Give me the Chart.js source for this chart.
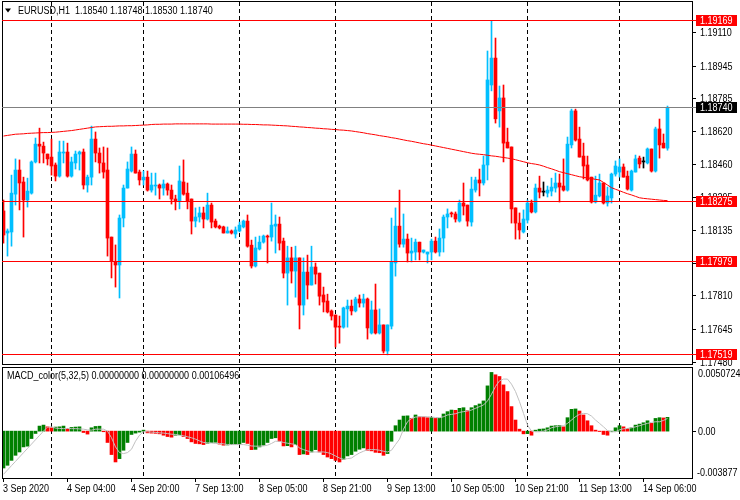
<!DOCTYPE html>
<html><head><meta charset="utf-8">
<script src="https://cdn.jsdelivr.net/npm/chart.js@4.4.1/dist/chart.umd.min.js"></script>
<style>
html,body{margin:0;padding:0;background:#fff;}
#wrap{position:relative;width:740px;height:500px;overflow:hidden;background:#fff;}
#c1{position:absolute;left:0;top:0;}
#c2{position:absolute;left:0;top:366px;}
</style></head><body>
<div id="wrap"><canvas id="c1" width="740" height="366"></canvas><canvas id="c2" width="740" height="134"></canvas></div>
<script>
const symbol = 'EURUSD,H1';
const opens = [1.18230,1.18121,1.18126,1.18313,1.18432,1.18373,1.18284,1.18318,1.18472,1.18560,
1.18550,1.18511,1.18496,1.18457,1.18402,1.18516,1.18521,1.18402,1.18467,1.18511,
1.18521,1.18358,1.18397,1.18585,1.18516,1.18467,1.18432,1.18101,1.17978,1.17963,
1.18195,1.18343,1.18427,1.18511,1.18422,1.18383,1.18397,1.18333,1.18353,1.18358,
1.18343,1.18363,1.18333,1.18289,1.18279,1.18373,1.18318,1.18289,1.18180,1.18200,
1.18220,1.18190,1.18259,1.18180,1.18155,1.18151,1.18121,1.18131,1.18116,1.18131,
1.18151,1.18180,1.18061,1.17958,1.18042,1.18076,1.18106,1.18101,1.18155,1.18165,
1.18081,1.17923,1.17998,1.17933,1.17998,1.17765,1.17928,1.17864,1.17953,1.17923,
1.17815,1.17785,1.17736,1.17716,1.17661,1.17656,1.17746,1.17760,1.17736,1.17795,
1.17775,1.17795,1.17627,1.17741,1.17627,1.17667,1.17538,1.17661,1.17973,1.18155,
1.18066,1.18091,1.18022,1.18027,1.18076,1.18027,1.18017,1.18027,1.18081,1.18027,
1.18096,1.18200,1.18220,1.18215,1.18180,1.18269,1.18259,1.18175,1.18333,1.18383,
1.18368,1.18457,1.18852,1.18985,1.18724,1.18788,1.18570,1.18546,1.18245,1.18170,
1.18126,1.18185,1.18269,1.18225,1.18343,1.18323,1.18318,1.18328,1.18343,1.18368,
1.18353,1.18333,1.18556,1.18724,1.18585,1.18501,1.18457,1.18397,1.18274,1.18304,
1.18368,1.18269,1.18294,1.18412,1.18422,1.18447,1.18402,1.18333,1.18422,1.18491,
1.18472,1.18467,1.18536,1.18427,1.18635,1.18565,1.18540];
const highs = [1.18284,1.18141,1.18407,1.18487,1.18482,1.18397,1.18392,1.18477,1.18590,1.18639,
1.18570,1.18511,1.18585,1.18467,1.18575,1.18575,1.18565,1.18496,1.18526,1.18526,
1.18536,1.18407,1.18649,1.18620,1.18541,1.18546,1.18541,1.18101,1.18062,1.18210,
1.18358,1.18472,1.18546,1.18531,1.18432,1.18427,1.18427,1.18417,1.18417,1.18363,
1.18383,1.18368,1.18358,1.18308,1.18452,1.18482,1.18368,1.18289,1.18245,1.18249,
1.18249,1.18318,1.18269,1.18190,1.18160,1.18155,1.18151,1.18136,1.18151,1.18175,
1.18185,1.18210,1.18086,1.18101,1.18106,1.18111,1.18111,1.18269,1.18210,1.18200,
1.18096,1.18056,1.18051,1.18056,1.17998,1.17998,1.18012,1.18056,1.17973,1.17923,
1.17854,1.17819,1.17741,1.17716,1.17711,1.17755,1.17790,1.17790,1.17804,1.17815,
1.17819,1.17800,1.17785,1.17869,1.17746,1.17667,1.17667,1.18195,1.18245,1.18333,
1.18215,1.18116,1.18096,1.18091,1.18076,1.18037,1.18027,1.18091,1.18101,1.18141,
1.18210,1.18240,1.18225,1.18225,1.18284,1.18368,1.18259,1.18397,1.18397,1.18437,
1.18501,1.19020,1.19169,1.19084,1.18847,1.18852,1.18639,1.18546,1.18245,1.18220,
1.18235,1.18284,1.18284,1.18363,1.18402,1.18373,1.18353,1.18392,1.18417,1.18412,
1.18487,1.18595,1.18733,1.18733,1.18644,1.18565,1.18501,1.18397,1.18402,1.18412,
1.18368,1.18348,1.18417,1.18477,1.18487,1.18462,1.18427,1.18432,1.18506,1.18501,
1.18496,1.18541,1.18536,1.18644,1.18684,1.18610,1.18748];
const lows = [1.18071,1.18007,1.18056,1.18259,1.18235,1.18101,1.18249,1.18313,1.18467,1.18467,
1.18467,1.18457,1.18407,1.18378,1.18397,1.18467,1.18397,1.18397,1.18437,1.18432,
1.18338,1.18323,1.18358,1.18472,1.18417,1.18392,1.18007,1.17899,1.17854,1.17800,
1.18151,1.18343,1.18422,1.18417,1.18358,1.18358,1.18328,1.18323,1.18308,1.18289,
1.18308,1.18308,1.18264,1.18235,1.18240,1.18308,1.18240,1.18116,1.18151,1.18175,
1.18146,1.18185,1.18146,1.18146,1.18141,1.18121,1.18121,1.18116,1.18096,1.18126,
1.18146,1.18051,1.17948,1.17953,1.18037,1.18071,1.17973,1.18081,1.18022,1.18037,
1.17899,1.17765,1.17874,1.17804,1.17647,1.17716,1.17795,1.17864,1.17869,1.17765,
1.17731,1.17726,1.17691,1.17558,1.17577,1.17651,1.17656,1.17716,1.17731,1.17755,
1.17755,1.17597,1.17622,1.17622,1.17622,1.17528,1.17519,1.17647,1.17908,1.18051,
1.18051,1.17978,1.17978,1.17988,1.17988,1.18022,1.17973,1.17988,1.18022,1.18007,
1.18027,1.18146,1.18200,1.18175,1.18175,1.18210,1.18155,1.18155,1.18323,1.18304,
1.18358,1.18383,1.18823,1.18664,1.18644,1.18472,1.18541,1.18170,1.18091,1.18091,
1.18121,1.18170,1.18220,1.18220,1.18294,1.18304,1.18299,1.18304,1.18323,1.18274,
1.18328,1.18328,1.18541,1.18575,1.18496,1.18388,1.18378,1.18269,1.18269,1.18299,
1.18264,1.18254,1.18269,1.18402,1.18397,1.18397,1.18333,1.18328,1.18422,1.18442,
1.18442,1.18462,1.18422,1.18422,1.18491,1.18541,1.18530];
const closes = [1.18111,1.18131,1.18318,1.18432,1.18368,1.18284,1.18328,1.18472,1.18560,1.18550,
1.18516,1.18487,1.18452,1.18402,1.18521,1.18521,1.18402,1.18472,1.18511,1.18521,
1.18358,1.18397,1.18585,1.18516,1.18467,1.18422,1.18096,1.17983,1.17963,1.18195,
1.18343,1.18437,1.18511,1.18417,1.18383,1.18397,1.18333,1.18358,1.18358,1.18343,
1.18363,1.18333,1.18289,1.18279,1.18378,1.18313,1.18279,1.18180,1.18200,1.18220,
1.18190,1.18259,1.18175,1.18151,1.18146,1.18121,1.18131,1.18121,1.18136,1.18160,
1.18180,1.18056,1.17958,1.18047,1.18076,1.18106,1.18101,1.18160,1.18165,1.18071,
1.17923,1.17998,1.17933,1.17998,1.17765,1.17928,1.17864,1.17953,1.17918,1.17809,
1.17780,1.17731,1.17711,1.17656,1.17656,1.17751,1.17760,1.17736,1.17795,1.17775,
1.17795,1.17652,1.17741,1.17627,1.17667,1.17538,1.17667,1.17978,1.18155,1.18066,
1.18091,1.18022,1.18032,1.18076,1.18027,1.18037,1.18027,1.18081,1.18027,1.18096,
1.18200,1.18215,1.18215,1.18190,1.18269,1.18254,1.18180,1.18338,1.18383,1.18368,
1.18457,1.18877,1.18985,1.18685,1.18788,1.18565,1.18541,1.18240,1.18170,1.18136,
1.18190,1.18269,1.18225,1.18343,1.18323,1.18323,1.18333,1.18348,1.18368,1.18348,
1.18333,1.18560,1.18724,1.18580,1.18496,1.18452,1.18383,1.18274,1.18308,1.18368,
1.18269,1.18304,1.18412,1.18452,1.18447,1.18397,1.18338,1.18427,1.18487,1.18462,
1.18472,1.18536,1.18427,1.18635,1.18556,1.18541,1.18740];
const ma = [1.18600,1.18603,1.18606,1.18609,1.18610,1.18611,1.18613,
1.18614,1.18615,1.18616,1.18617,1.18617,1.18618,
1.18619,1.18621,1.18623,1.18625,1.18627,
1.18630,1.18633,1.18636,1.18639,1.18642,1.18645,
1.18646,1.18647,1.18648,1.18648,1.18649,1.18650,1.18650,1.18651,1.18651,
1.18652,1.18653,1.18654,1.18655,1.18657,1.18658,
1.18658,1.18659,1.18659,1.18659,1.18660,1.18660,1.18660,1.18660,1.18660,1.18660,1.18660,
1.18660,1.18660,1.18659,1.18659,1.18659,1.18659,1.18659,1.18659,1.18659,1.18659,
1.18658,1.18658,1.18657,1.18657,1.18656,1.18655,1.18655,1.18654,1.18653,1.18652,1.18651,1.18650,1.18648,1.18647,1.18645,
1.18644,1.18642,1.18641,1.18639,1.18638,1.18636,1.18635,1.18633,1.18632,1.18630,1.18629,1.18627,1.18625,
1.18622,1.18619,1.18616,1.18612,1.18609,1.18606,1.18602,1.18599,1.18596,1.18592,1.18589,1.18585,
1.18581,1.18577,1.18574,1.18570,1.18566,1.18562,1.18559,1.18555,1.18551,1.18547,
1.18543,1.18539,1.18535,1.18531,1.18527,1.18523,1.18519,1.18515,
1.18512,1.18510,1.18508,1.18505,1.18502,
1.18500,1.18497,1.18494,1.18491,1.18488,
1.18483,1.18478,1.18473,1.18468,
1.18464,1.18461,1.18457,
1.18451,1.18444,1.18438,1.18431,1.18424,
1.18419,1.18414,1.18409,1.18404,1.18399,
1.18396,1.18393,1.18390,1.18386,1.18383,
1.18371,1.18358,1.18345,
1.18337,1.18330,1.18322,1.18315,
1.18309,1.18302,1.18295,
1.18292,1.18290,1.18288,1.18286,1.18284,
1.18282,1.18281];
const macdHist = [-0.00299,-0.00277,-0.00237,-0.00196,-0.00169,-0.00128,-0.00122,-0.00060,-0.00019,0.00041,
0.00049,0.00035,0.00027,0.00033,0.00035,0.00041,0.00022,0.00030,0.00033,0.00035,
-0.00011,-0.00024,0.00027,0.00038,0.00040,-0.00005,-0.00092,-0.00190,-0.00250,-0.00223,
-0.00155,-0.00092,-0.00027,-0.00016,-0.00008,0.00008,-0.00014,-0.00016,-0.00018,-0.00022,
-0.00033,-0.00044,-0.00049,-0.00033,-0.00030,-0.00044,-0.00060,-0.00087,-0.00100,-0.00103,
-0.00109,-0.00098,-0.00094,-0.00090,-0.00105,-0.00114,-0.00112,-0.00109,-0.00106,-0.00104,
-0.00092,-0.00100,-0.00150,-0.00148,-0.00128,-0.00114,-0.00092,-0.00060,-0.00054,-0.00082,
-0.00120,-0.00118,-0.00128,-0.00109,-0.00190,-0.00185,-0.00190,-0.00169,-0.00150,-0.00169,
-0.00190,-0.00210,-0.00223,-0.00237,-0.00250,-0.00228,-0.00201,-0.00190,-0.00163,-0.00147,
-0.00136,-0.00155,-0.00160,-0.00172,-0.00175,-0.00196,-0.00182,-0.00082,0.00044,0.00090,
0.00122,0.00124,0.00103,0.00131,0.00117,0.00115,0.00109,0.00111,0.00103,0.00105,
0.00139,0.00158,0.00171,0.00169,0.00185,0.00190,0.00166,0.00190,0.00207,0.00220,
0.00245,0.00367,0.00476,0.00457,0.00443,0.00375,0.00321,0.00199,0.00090,0.00016,
-0.00022,-0.00020,-0.00033,0.00008,0.00016,0.00018,0.00027,0.00041,0.00044,0.00046,
0.00035,0.00109,0.00177,0.00180,0.00163,0.00131,0.00084,0.00044,0.00008,-0.00003,
-0.00027,-0.00033,-0.00005,0.00027,0.00044,0.00035,0.00022,0.00027,0.00049,0.00057,
0.00068,0.00084,0.00063,0.00103,0.00109,0.00107,0.00112];
const macdSignal = [-0.00350,-0.00315,-0.00280,-0.00245,-0.00210,-0.00175,-0.00140,-0.00105,-0.00070,-0.00035,
0.00000,0.00033,0.00035,0.00025,0.00022,0.00020,0.00022,0.00020,0.00020,0.00018,
0.00016,0.00010,0.00008,0.00016,0.00016,0.00016,0.00000,-0.00054,-0.00128,-0.00174,
-0.00182,-0.00174,-0.00147,-0.00082,-0.00033,-0.00005,-0.00005,-0.00008,-0.00010,-0.00014,
-0.00016,-0.00020,-0.00025,-0.00027,-0.00033,-0.00038,-0.00046,-0.00054,-0.00065,-0.00079,
-0.00092,-0.00095,-0.00095,-0.00100,-0.00100,-0.00103,-0.00109,-0.00109,-0.00109,-0.00109,
-0.00109,-0.00114,-0.00120,-0.00122,-0.00122,-0.00120,-0.00114,-0.00100,-0.00082,-0.00082,
-0.00092,-0.00098,-0.00103,-0.00109,-0.00136,-0.00150,-0.00160,-0.00169,-0.00169,-0.00169,
-0.00169,-0.00174,-0.00185,-0.00201,-0.00218,-0.00228,-0.00223,-0.00218,-0.00196,-0.00177,
-0.00163,-0.00150,-0.00150,-0.00150,-0.00155,-0.00163,-0.00169,-0.00155,-0.00109,-0.00065,
0.00016,0.00076,0.00103,0.00114,0.00117,0.00117,0.00117,0.00114,0.00111,0.00109,
0.00117,0.00131,0.00136,0.00141,0.00152,0.00158,0.00163,0.00171,0.00185,0.00199,
0.00212,0.00245,0.00299,0.00362,0.00408,0.00422,0.00422,0.00381,0.00321,0.00239,
0.00144,0.00049,0.00000,-0.00005,-0.00005,0.00000,0.00011,0.00027,0.00035,0.00041,
0.00044,0.00063,0.00090,0.00117,0.00136,0.00144,0.00141,0.00122,0.00090,0.00063,
0.00035,0.00005,-0.00005,-0.00005,0.00011,0.00019,0.00022,0.00027,0.00035,0.00044,
0.00054,0.00063,0.00071,0.00076,0.00076,0.00087,0.00103];
const priceTicks = [1.19110,1.18945,1.18785,1.18620,1.18460,1.18295,1.18135,1.17970,1.17810,1.17645,1.17480];
const redLevels = [1.19169,1.18275,1.17979,1.17519];
const bidLevel = 1.18740;
const macdTicks = [0.0050724, 0, -0.003877];
const macdTickLabels = ['0.0050724','0.00','-0.003877'];
const macdTitle = 'MACD_color(5,32,5) 0.00000000 0.00000000 0.00106496';
const timeLabels = ['3 Sep 2020','4 Sep 04:00','4 Sep 20:00','7 Sep 13:00','8 Sep 05:00','8 Sep 21:00','9 Sep 13:00','10 Sep 05:00','10 Sep 21:00','11 Sep 13:00','14 Sep 06:00'];
const timeLabelBars = [0,16,32,48,64,80,96,112,128,144,160];
const dayStartBars = [12,35,59,83,107,131,154];

const FONT = '10px "Liberation Sans", Arial, sans-serif';
const TEXT_SX = 0.9;
const BULL = '#00BFFF', BEAR = '#FF0000', DOJI = '#000000';
const candleColors = opens.map((o,i)=> closes[i] > o ? BULL : (closes[i] < o ? BEAR : DOJI));
const histColors = macdHist.map((v,i)=> (i===0 || v >= macdHist[i-1]) ? '#008000' : '#FF0000');

const xScale = {type:'linear', display:false, min:-0.375, max:172.125, offset:false};

function txt(ctx, s, x, y){
  ctx.save(); ctx.translate(x, y); ctx.scale(TEXT_SX, 1); ctx.fillText(s, 0, 0); ctx.restore();
}

function drawSeparators(chart){
  const {ctx, chartArea:a, scales:{x}} = chart;
  ctx.save();
  ctx.strokeStyle = '#000'; ctx.lineWidth = 1; ctx.setLineDash([4,3]);
  dayStartBars.forEach(b=>{
    const px = Math.round(x.getPixelForValue(b) - 0.5) + 0.5;
    ctx.beginPath(); ctx.moveTo(px, a.top); ctx.lineTo(px, a.bottom); ctx.stroke();
  });
  ctx.restore();
}

const mainDecor = {
  id:'mainDecor',
  beforeDatasetsDraw(chart){ drawSeparators(chart); },
  afterDraw(chart){
    const {ctx, chartArea:a, scales:{y}} = chart;
    ctx.save();
    ctx.strokeStyle = '#000'; ctx.lineWidth = 1;
    ctx.strokeRect(2.5, 1.5, 690, 363);
    ctx.font = FONT; ctx.fillStyle = '#000'; ctx.textBaseline = 'middle'; ctx.textAlign = 'left';
    priceTicks.forEach(v=>{
      const py = Math.round(y.getPixelForValue(v) - 0.5) + 0.5;
      ctx.beginPath(); ctx.moveTo(692, py); ctx.lineTo(696, py); ctx.stroke();
      txt(ctx, v.toFixed(5), 700, py + 0.5);
    });
    const drawLevel = (v, lineColor, boxColor) => {
      const py = Math.round(y.getPixelForValue(v) - 0.5) + 0.5;
      ctx.strokeStyle = lineColor; ctx.lineWidth = 1;
      ctx.beginPath(); ctx.moveTo(a.left, py); ctx.lineTo(696, py); ctx.stroke();
      ctx.fillStyle = boxColor;
      ctx.fillRect(696, py - 5.5, 41, 11);
      ctx.fillStyle = '#fff';
      txt(ctx, v.toFixed(5), 700, py + 0.5);
    };
    redLevels.forEach(v=> drawLevel(v, '#FF0000', '#FF0000'));
    drawLevel(bidLevel, '#808080', '#000000');
    const last = opens.length - 1;
    ctx.fillStyle = '#000';
    ctx.beginPath(); ctx.moveTo(5, 8.5); ctx.lineTo(11, 8.5); ctx.lineTo(8, 12.5); ctx.closePath(); ctx.fill();
    const hdr = symbol + '  ' + [opens[last], highs[last], lows[last], closes[last]].map(v=>v.toFixed(5)).join(' ');
    txt(ctx, hdr, 18, 11);
    ctx.restore();
  }
};

const macdDecor = {
  id:'macdDecor',
  beforeDatasetsDraw(chart){ drawSeparators(chart); },
  afterDraw(chart){
    const {ctx, chartArea:a, scales:{x, y}} = chart;
    ctx.save();
    ctx.strokeStyle = '#000'; ctx.lineWidth = 1;
    ctx.strokeRect(2.5, 1.5, 690, 111);
    ctx.font = FONT; ctx.fillStyle = '#000'; ctx.textAlign = 'left';
    macdTicks.forEach((v,k)=>{
      const py = y.getPixelForValue(v);
      if (k === 0) { ctx.textBaseline = 'top'; txt(ctx, macdTickLabels[k], 698, py + 1); }
      else if (k === macdTicks.length - 1) { ctx.textBaseline = 'bottom'; txt(ctx, macdTickLabels[k], 697, py - 1); }
      else {
        const p = Math.round(py - 0.5) + 0.5;
        ctx.beginPath(); ctx.moveTo(692, p); ctx.lineTo(696, p); ctx.stroke();
        ctx.textBaseline = 'middle'; txt(ctx, macdTickLabels[k], 698, p + 1);
      }
    });
    ctx.textBaseline = 'middle';
    txt(ctx, macdTitle, 7, 10.5);
    timeLabelBars.forEach((b,k)=>{
      const px = Math.round(x.getPixelForValue(b) - 0.5) + 0.5;
      ctx.beginPath(); ctx.moveTo(px, 112.5); ctx.lineTo(px, 116); ctx.stroke();
      txt(ctx, timeLabels[k], px - 0.5, 123);
    });
    ctx.restore();
  }
};

const common = {
  responsive:false, animation:false, devicePixelRatio:1, events:[],
  plugins:{legend:{display:false}, tooltip:{enabled:false}}
};

new Chart(document.getElementById('c1'), {
  type:'bar',
  data:{datasets:[
    {type:'line', data: ma.map((v,i)=>({x:i, y:v})), borderColor:'#FF0000', borderWidth:1, pointRadius:0, tension:0, order:0},
    {type:'bar', data: opens.map((o,i)=>({x:i, y:[o, closes[i]]})), backgroundColor:candleColors, barThickness:3, grouped:false, minBarLength:1, borderWidth:0, order:1},
    {type:'bar', data: lows.map((l,i)=>({x:i, y:[l, highs[i]]})), backgroundColor:candleColors, barThickness:1, grouped:false, borderWidth:0, order:2}
  ]},
  options:Object.assign({}, common, {
    layout:{padding:{left:2, right:48, top:2, bottom:2}},
    scales:{ x: xScale, y:{type:'linear', display:false, min:1.17474, max:1.19262} }
  }),
  plugins:[mainDecor]
});

new Chart(document.getElementById('c2'), {
  type:'bar',
  data:{datasets:[
    {type:'line', data: macdSignal.map((v,i)=>({x:i, y:v})), borderColor:'#C0C0C0', borderWidth:1, pointRadius:0, tension:0, order:0},
    {type:'bar', data: macdHist.map((v,i)=>({x:i, y:v})), backgroundColor:histColors, barThickness:3, grouped:false, borderWidth:0, order:1}
  ]},
  options:Object.assign({}, common, {
    layout:{padding:{left:2, right:48, top:1, bottom:22}},
    scales:{ x: Object.assign({}, xScale), y:{type:'linear', display:false, min:-0.0038, max:0.0052} }
  }),
  plugins:[macdDecor]
});
</script>
</body></html>
